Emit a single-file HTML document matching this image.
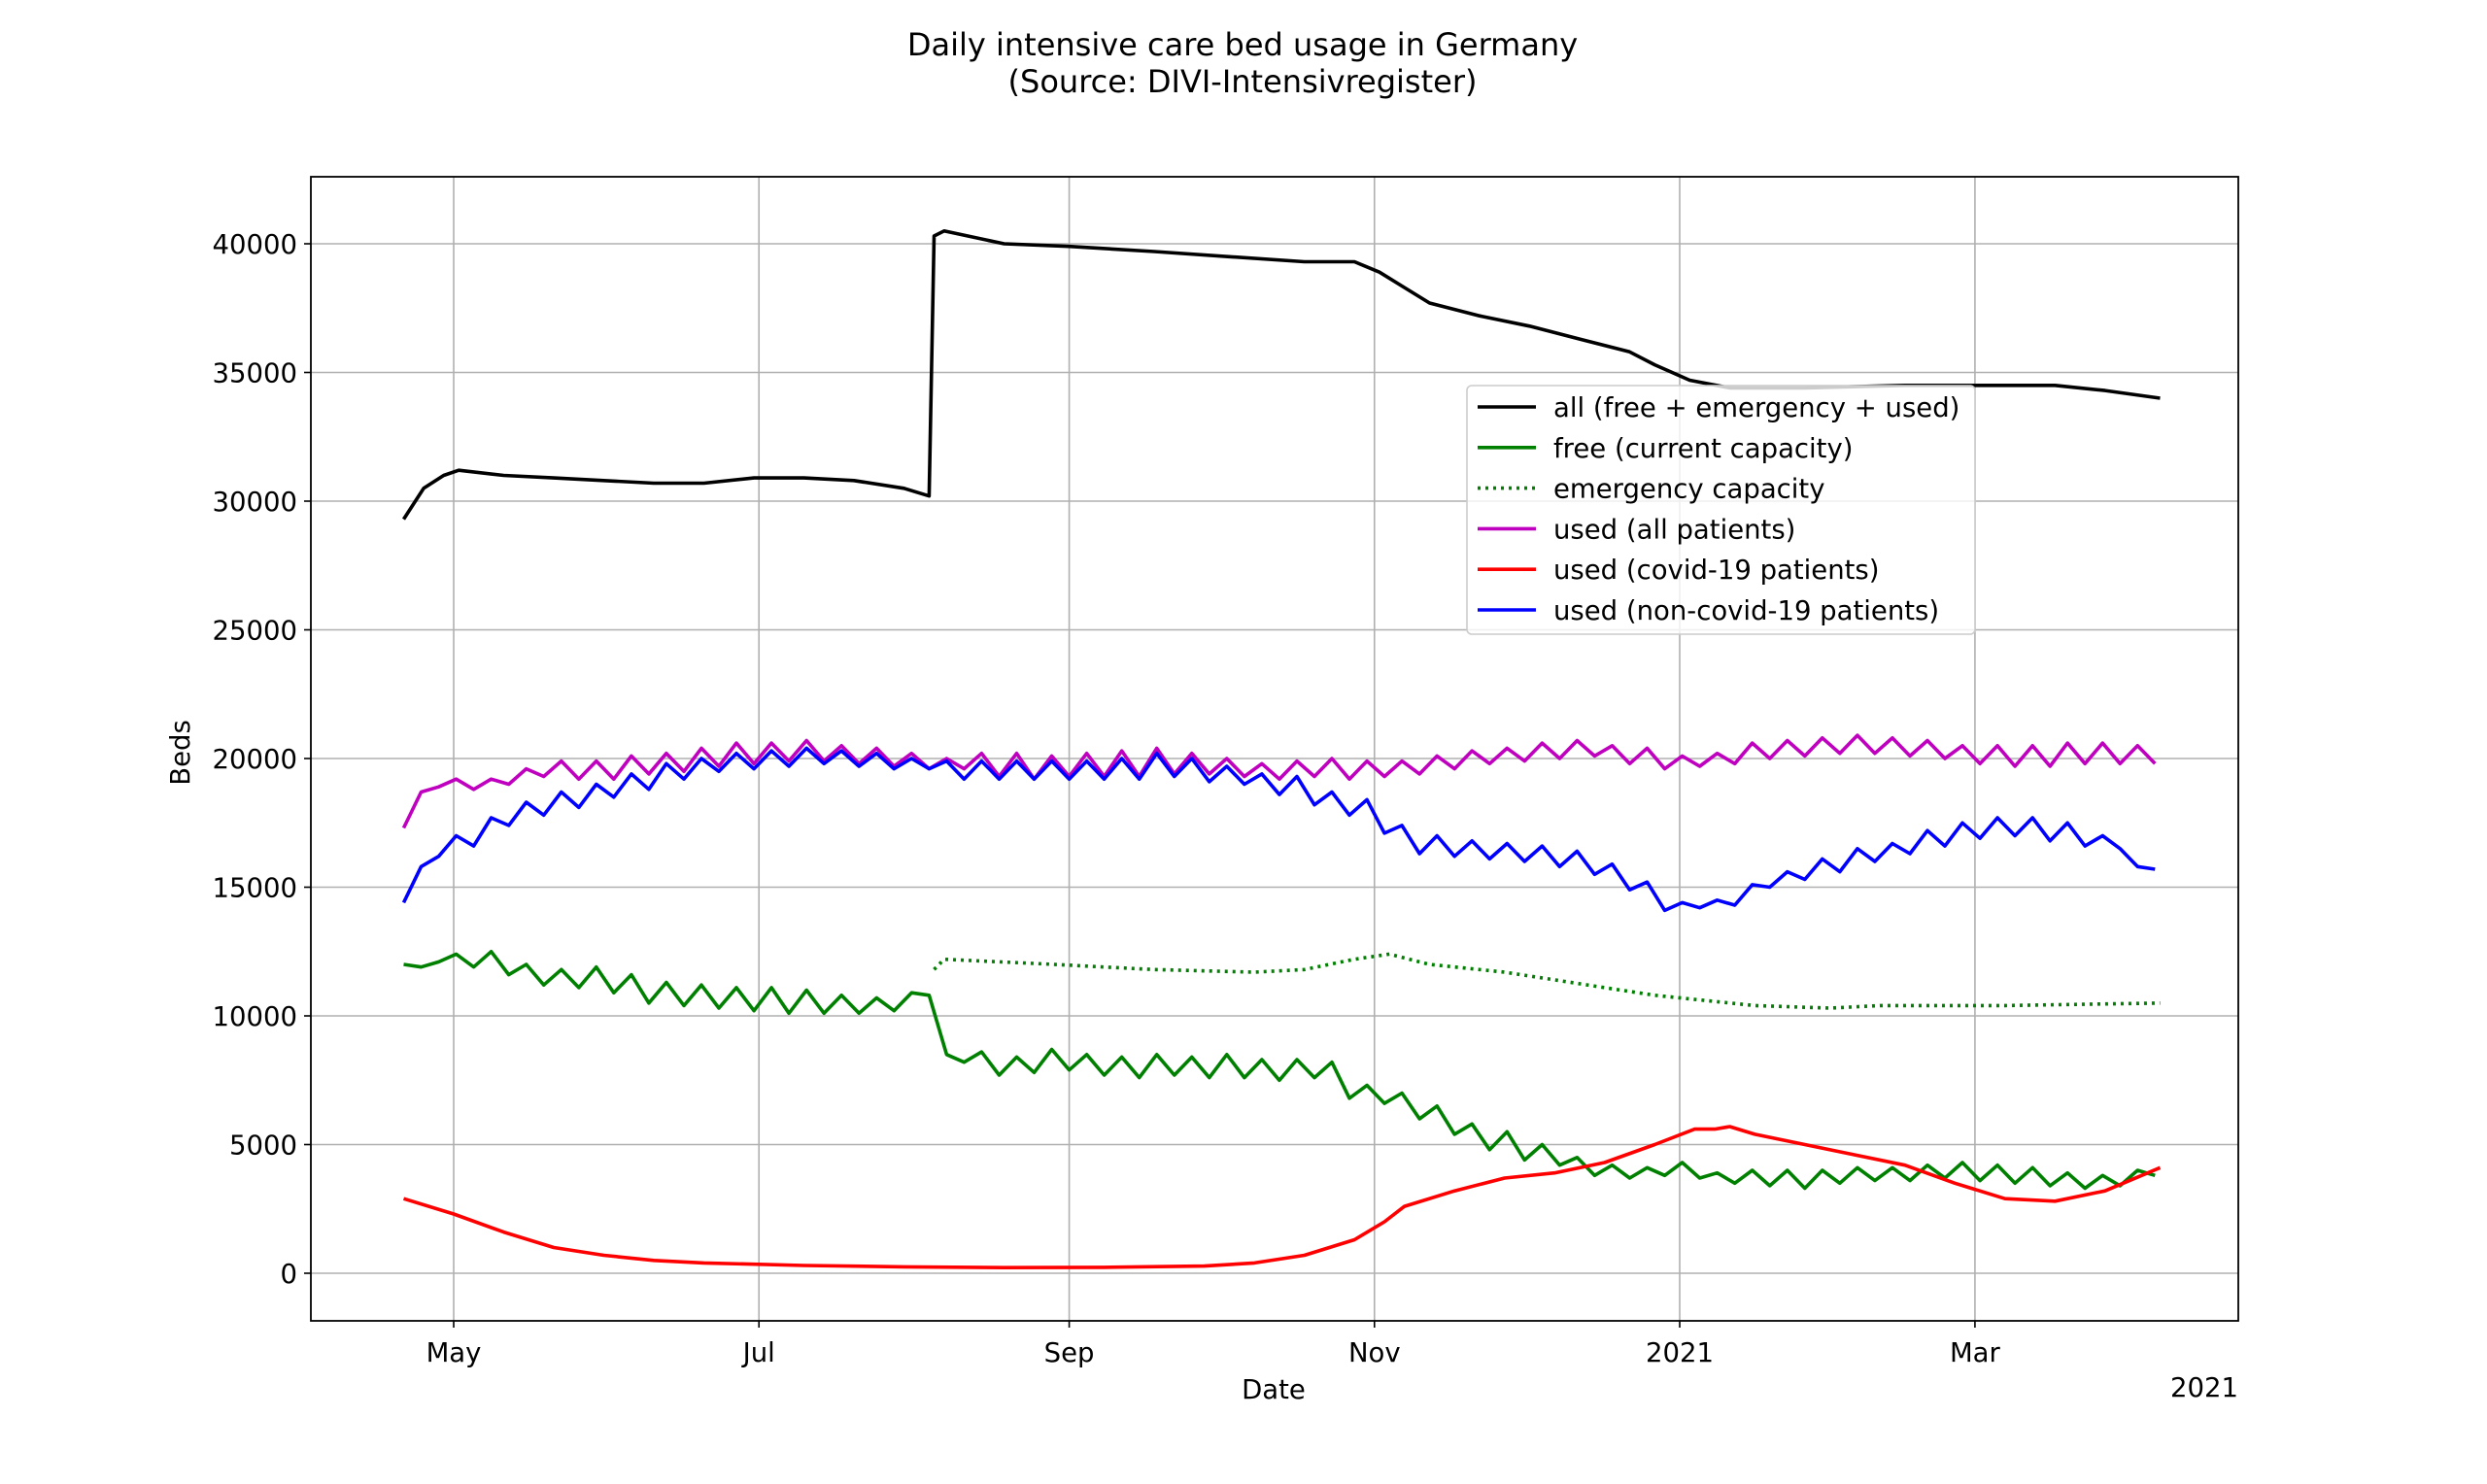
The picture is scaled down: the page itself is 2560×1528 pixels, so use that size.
<!DOCTYPE html>
<html><head><meta charset="utf-8"><style>
html,body{margin:0;padding:0;background:#fff;}
svg{display:block;font-family:"DejaVu Sans","Liberation Sans",sans-serif;}
</style></head><body>
<svg id="chart" width="2560" height="1528" viewBox="0 0 2560 1528" xmlns="http://www.w3.org/2000/svg">
<rect width="2560" height="1528" fill="#fff"/>
<text x="1279" y="57" font-size="32" text-anchor="middle">Daily intensive care bed usage in Germany</text>
<text x="1279" y="95" font-size="32" text-anchor="middle">(Source: DIVI-Intensivregister)</text>
<g id="grid"></g><g id="series"></g><g id="axes"></g><g id="legend"></g>
</svg>
<script>
const yTicks=[0,5000,10000,15000,20000,25000,30000,35000,40000];
const xTickLabels=["May","Jul","Sep","Nov","2021","Mar"];
const xTickDays=[10,71,133,194,255,314];
const smoothDays=[0,4,8,11,20,30,40,50,60,70,80,90,100,105,106,108,120,133,150,165,180,190,195,200,205,215,225,235,245,250,257,265,280,300,320,330,340,351];
const allBeds=[29300,30500,31000,31200,31000,30900,30800,30700,30700,30900,30900,30800,30500,30200,40300,40500,40000,39900,39700,39500,39300,39300,38900,38300,37700,37200,36800,36300,35800,35300,34700,34400,34400,34500,34500,34500,34300,34000];
const emergDays=[106,108,130,140,150,170,180,190,197,205,220,230,240,250,260,270,285,295,320,351];
const emergency=[11800,12200,12000,11900,11800,11700,11800,12200,12400,12000,11700,11400,11100,10800,10600,10400,10300,10400,10400,10500];
const covidDays=[0,10,20,30,40,50,60,80,100,120,140,160,170,180,190,196,200,210,220,230,240,250,258,262,265,270,280,290,300,310,320,330,340,351];
const covid=[2900,2300,1600,1000,700,500,400,300,250,220,230,280,400,700,1300,2000,2600,3200,3700,3900,4300,5000,5600,5600,5700,5400,5000,4600,4200,3500,2900,2800,3200,4100];
const oscDays=[0,3.5,7,10.5,14,17.5,21,24.5,28,31.5,35,38.5,42,45.5,49,52.5,56,59.5,63,66.5,70,73.5,77,80.5,84,87.5,91,94.5,98,101.5,105,108.5,112,115.5,119,122.5,126,129.5,133,136.5,140,143.5,147,150.5,154,157.5,161,164.5,168,171.5,175,178.5,182,185.5,189,192.5,196,199.5,203,206.5,210,213.5,217,220.5,224,227.5,231,234.5,238,241.5,245,248.5,252,255.5,259,262.5,266,269.5,273,276.5,280,283.5,287,290.5,294,297.5,301,304.5,308,311.5,315,318.5,322,325.5,329,332.5,336,339.5,343,346.5,350];
const freeBeds=[12000,11900,12100,12400,11900,12500,11600,12000,11200,11800,11100,11900,10900,11600,10500,11300,10400,11200,10300,11100,10200,11100,10100,11000,10100,10800,10100,10700,10200,10900,10800,8500,8200,8600,7700,8400,7800,8700,7900,8500,7700,8400,7600,8500,7700,8400,7600,8500,7600,8300,7500,8300,7600,8200,6800,7300,6600,7000,6000,6500,5400,5800,4800,5500,4400,5000,4200,4500,3800,4200,3700,4100,3800,4300,3700,3900,3500,4000,3400,4000,3300,4000,3500,4100,3600,4100,3600,4200,3700,4300,3600,4200,3500,4100,3400,3900,3300,3800,3400,4000,3800];
const usedAll=[17300,18700,18900,19200,18800,19200,19000,19600,19300,19900,19200,19900,19200,20100,19400,20200,19500,20400,19700,20600,19800,20600,19900,20700,19900,20500,19800,20400,19700,20200,19600,20000,19600,20200,19300,20200,19200,20100,19300,20200,19300,20300,19300,20400,19400,20200,19400,20000,19300,19800,19200,19900,19300,20000,19200,19900,19300,19900,19400,20100,19600,20300,19800,20400,19900,20600,20000,20700,20100,20500,19800,20400,19600,20100,19700,20200,19800,20600,20000,20700,20100,20800,20200,20900,20200,20800,20100,20700,20000,20500,19800,20500,19700,20500,19700,20600,19800,20600,19800,20500,19800];
const usedNonCovid=[14400,15800,16200,17000,16600,17700,17400,18300,17800,18700,18100,19000,18500,19400,18800,19800,19200,20000,19500,20200,19600,20300,19700,20400,19800,20300,19700,20200,19600,20000,19600,19900,19200,19900,19200,19900,19200,19900,19200,19900,19200,20000,19200,20200,19300,20000,19100,19700,19000,19400,18600,19300,18200,18700,17800,18400,17100,17400,16300,17000,16200,16800,16100,16700,16000,16600,15800,16400,15500,15900,14900,15200,14100,14400,14200,14500,14300,15100,15000,15600,15300,16100,15600,16500,16000,16700,16300,17200,16600,17500,16900,17700,17000,17700,16800,17500,16600,17000,16500,15800,15700];

const NS="http://www.w3.org/2000/svg";
const L=320,R=2304,T=182,B=1360;
function xs(d){return 415.5+5.151*d;}
function ys(v){return 1311-v*0.0265;}
function mk(tag,attrs,parent){const e=document.createElementNS(NS,tag);for(const k in attrs)e.setAttribute(k,attrs[k]);parent.appendChild(e);return e;}
const grid=document.getElementById('grid'),axes=document.getElementById('axes'),ser=document.getElementById('series'),leg=document.getElementById('legend');
yTicks.forEach(v=>{
  const g=mk('line',{x1:L,x2:R,y1:ys(v),y2:ys(v),stroke:'#b0b0b0','stroke-width':1.6},grid);
  
  
  mk('line',{x1:L-7,x2:L,y1:ys(v),y2:ys(v),stroke:'#000','stroke-width':1.6},axes);
  const t=mk('text',{x:L-14,y:ys(v)+10,'font-size':27.5,'text-anchor':'end'},axes);
  t.textContent=v;
  
  
});
xTickDays.forEach((d,i)=>{
  const g=mk('line',{x1:xs(d),x2:xs(d),y1:T,y2:B,stroke:'#b0b0b0','stroke-width':1.6},grid);
  
  
  mk('line',{x1:xs(d),x2:xs(d),y1:B,y2:B+7,stroke:'#000','stroke-width':1.6},axes);
  const t=mk('text',{x:xs(d),y:B+42,'font-size':27.5,'text-anchor':'middle'},axes);
  t.textContent=xTickLabels[i];
  
  
});
const frame=mk('rect',{x:L,y:T,width:R-L,height:B-T,fill:'none',stroke:'#000','stroke-width':1.8},axes);


let t=mk('text',{x:1311,y:1440,'font-size':27.5,'text-anchor':'middle'},axes);t.textContent='Date';


t=mk('text',{x:2304,y:1438,'font-size':27.5,'text-anchor':'end'},axes);t.textContent='2021';


t=mk('text',{x:195,y:775,'font-size':27.5,'text-anchor':'middle',transform:'rotate(-90 195 775)'},axes);t.textContent='Beds';



const series=[
 {name:'all (free + emergency + used)',days:smoothDays,vals:allBeds,color:'#000',dash:null,id:'line-all'},
 {name:'free (current capacity)',days:oscDays,vals:freeBeds,color:'#008000',dash:null,id:'line-free'},
 {name:'emergency capacity',days:emergDays,vals:emergency,color:'#008000',dash:'3 5',id:'line-emergency'},
 {name:'used (all patients)',days:oscDays,vals:usedAll,color:'#bf00bf',dash:null,id:'line-used-all'},
 {name:'used (covid-19 patients)',days:covidDays,vals:covid,color:'#ff0000',dash:null,id:'line-used-covid'},
 {name:'used (non-covid-19 patients)',days:oscDays,vals:usedNonCovid,color:'#0000ff',dash:null,id:'line-used-noncovid'}
];
series.forEach(s=>{
  const d=s.days.map((dd,i)=>(i?'L':'M')+xs(dd).toFixed(1)+','+ys(s.vals[i]).toFixed(1)).join(' ');
  const p=mk('path',{d:d,fill:'none',stroke:s.color,'stroke-width':3.6,'stroke-linejoin':'round'},ser);
  if(s.dash)p.setAttribute('stroke-dasharray',s.dash);
  
  
});
const box=mk('rect',{x:1510,y:397,width:523,height:256,rx:5,fill:'#fff','fill-opacity':0.8,stroke:'#ccc','stroke-width':1.6},leg);


series.forEach((s,i)=>{
  const y=419+i*41.8;
  const l=mk('line',{x1:1521,x2:1581,y1:y,y2:y,stroke:s.color,'stroke-width':3.6},leg);
  if(s.dash)l.setAttribute('stroke-dasharray',s.dash);
  
  
  const tx=mk('text',{x:1599,y:y+10,'font-size':27.5},leg);
  tx.textContent=s.name;
  
  
});
</script>
</body></html>
